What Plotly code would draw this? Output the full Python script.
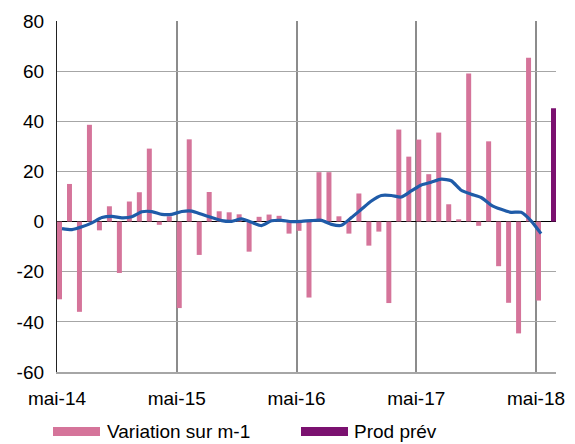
import plotly.graph_objects as go

# ---- data ----
variation = [-31, 15, -36, 38.6, -3.5, 6.1, -20.5, 8.0, 11.7, 29.1, -1.3, 2.1,
             -34.5, 32.8, -13.3, 11.8, 4.1, 3.7, 2.9, -12.0, 1.9, 2.8, 2.3, -4.8,
             -3.7, -30.3, 19.7, 19.7, 2.1, -4.8, 11.2, -9.6, -4.0, -32.5, 36.7, 25.9,
             32.7, 18.9, 35.5, 6.9, 0.9, 59.1, -1.7, 32.0, -17.8, -32.4, -44.6, 65.3,
             -31.5]
moyenne = [-2.8, -3.2, -2.1, -0.5, 1.6, 2.1, 1.5, 1.9, 3.9, 4.0, 2.9, 2.9,
           4.0, 4.2, 2.9, 1.6, 0.4, 0.1, 1.1, -0.3, -1.6, 0.3, 0.5, 0.0,
           0.1, 0.4, 0.5, -1.1, -1.5, 1.6, 4.9, 8.2, 10.4, 10.4, 9.8, 12.2,
           14.6, 15.7, 16.9, 16.3, 12.5, 10.9, 9.6, 6.6, 4.9, 3.7, 3.7, 0.3,
           -4.8]
prod_prev = [45.2]
prod_month_index = [49]
tick_labels = ["mai-14", "mai-15", "mai-16", "mai-17", "mai-18"]
tick_month_index = [0, 12, 24, 36, 48]
y_tick_values = [-60, -40, -20, 0, 20, 40, 60, 80]
y_tick_labels = ["-60", "-40", "-20", "0", "20", "40", "60", "80"]
legend_names = ["Variation sur m-1", "Prod prév"]

PINK = "#D5749A"
PURPLE = "#7B1170"
BLUE = "#1F5BA8"
FONT = "Liberation Sans, Arial, sans-serif"

x_var = list(range(len(variation)))
x_line = [i + 0.5 for i in x_var]

fig = go.Figure()
fig.add_trace(go.Bar(x=x_var, y=variation, name=legend_names[0], width=0.5, offset=0.0,
                     marker=dict(color=PINK, line=dict(width=0)), showlegend=False))
fig.add_trace(go.Bar(x=prod_month_index, y=prod_prev, name=legend_names[1], width=0.5, offset=0.5,
                     marker=dict(color=PURPLE, line=dict(width=0)), showlegend=False))
fig.add_trace(go.Scatter(x=x_line, y=moyenne, mode="lines",
                         line=dict(color=BLUE, width=3.2, shape="spline", smoothing=0.6),
                         showlegend=False, hoverinfo="skip"))

W, H = 575, 444
L, R, T, B = 57, 19, 21, 72
pw, ph = W - L - R, H - T - B

def px_x(px):
    return (px - L) / pw

def px_y(py):
    return (H - B - py) / ph

shapes = [
    dict(type="rect", xref="paper", yref="paper",
         x0=px_x(53), x1=px_x(100), y0=px_y(427), y1=px_y(436),
         fillcolor=PINK, line=dict(width=0)),
    dict(type="rect", xref="paper", yref="paper",
         x0=px_x(301), x1=px_x(348), y0=px_y(427), y1=px_y(436),
         fillcolor=PURPLE, line=dict(width=0)),
]
annotations = [
    dict(xref="paper", yref="paper", x=px_x(105), y=px_y(431.5), text=legend_names[0],
         showarrow=False, xanchor="left", yanchor="middle",
         font=dict(family=FONT, size=19, color="black")),
    dict(xref="paper", yref="paper", x=px_x(352), y=px_y(431.5), text=legend_names[1],
         showarrow=False, xanchor="left", yanchor="middle",
         font=dict(family=FONT, size=19, color="black")),
]

fig.update_layout(
    width=W, height=H,
    margin=dict(l=L, r=R, t=T, b=B, pad=0, autoexpand=False),
    paper_bgcolor="white", plot_bgcolor="white",
    barmode="overlay",
    font=dict(family=FONT, size=19, color="black"),
    shapes=shapes, annotations=annotations,
    showlegend=False,
)
fig.update_xaxes(range=[0, 50], tickmode="array", tickvals=tick_month_index,
                 ticktext=tick_labels, showgrid=True, gridcolor="#8C8C8C", gridwidth=2,
                 showline=True, linecolor="#A6A6A6", linewidth=1.5, ticks="",
                 zeroline=False, ticklabelstandoff=8, automargin=False, tickfont=dict(size=19))
fig.update_yaxes(range=[-60, 80], tickmode="array", tickvals=y_tick_values,
                 ticktext=y_tick_labels, showgrid=True, gridcolor="#A6A6A6",
                 gridwidth=1.3, zeroline=True, zerolinecolor="black", zerolinewidth=1.3,
                 showline=True, linecolor="#222222", linewidth=1.3, ticks="",
                 ticklabelstandoff=8, automargin=False, tickfont=dict(size=19))

fig.write_html("out.html", config={"displayModeBar": False},
               post_script="document.body.style.margin='0';document.body.style.padding='0';")
